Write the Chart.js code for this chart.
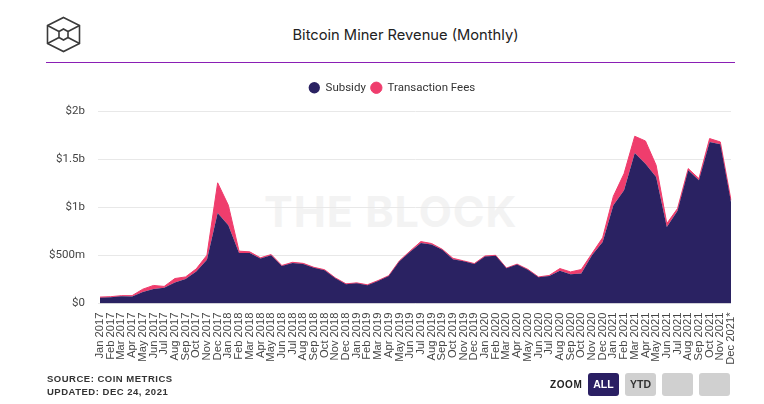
<!DOCTYPE html>
<html>
<head>
<meta charset="utf-8">
<title>Bitcoin Miner Revenue (Monthly)</title>
<script src="https://cdn.jsdelivr.net/npm/chart.js@4"></script>
<style>
    html, body { margin: 0; padding: 0; background: #fff; }
    #page { position: relative; width: 764px; height: 404px; overflow: hidden; }
    #title { position: absolute; left: 0; width: 811px; top: 26px; text-align: center; font: 400 14.7px Inter, sans-serif; color: #222; }
    #rule { position: absolute; left: 46px; top: 62px; width: 689px; height: 1px; background: #8a1fb5; }
    #mark { position: absolute; left: 264px; top: 185px; font: bold 43px Inter, sans-serif; color: #f3f3f3; letter-spacing: 1px; }
    #wrap { position: absolute; left: 30px; top: 77px; width: 724px; height: 327px; }
    #logo { position: absolute; left: 46px; top: 16px; }
    #source { position: absolute; left: 47px; top: 372px; font: bold 9.5px/13px "Liberation Sans", sans-serif; letter-spacing: 0.5px; color: #333; }
    #zoomLabel { position: absolute; left: 550px; top: 379px; font: bold 10px "Liberation Sans", sans-serif; letter-spacing: 0.6px; color: #222; }
    .btn { position: absolute; top: 373px; width: 31px; height: 23px; border-radius: 3px; background: #d0d0d0; color: #333; font: bold 10.5px/23px "Liberation Sans", sans-serif; text-align: center; }
    .btn.on { background: #2a1f63; color: #fff; }
</style>
</head>
<body>
<div id="page">
    <svg id="logo" width="36" height="38" viewBox="0 0 36 38" fill="none" stroke="#3a3a3a" stroke-width="1.6">
        <path d="M17.5 1.5 L33.5 9.5 L33.5 27.5 L17.5 35.5 L1.5 27.5 L1.5 9.5 Z"/>
        <path d="M17.5 13 L22 15.5 L22 21.5 L17.5 24 L13 21.5 L13 15.5 Z"/>
        <path d="M1.5 9.5 L13 15.5 M33.5 9.5 L22 15.5 M1.5 27.5 L13 21.5 M33.5 27.5 L22 21.5"/>
    </svg>
    <div id="title">Bitcoin Miner Revenue (Monthly)</div>
    <div id="rule"></div>
    <div id="mark">THE BLOCK</div>
    <div id="wrap"><canvas id="myChart" width="724" height="327"></canvas></div>
    <div id="source">SOURCE: COIN METRICS<br>UPDATED: DEC 24, 2021</div>
    <div id="zoomLabel">ZOOM</div>
    <div class="btn on" style="left:588px">ALL</div>
    <div class="btn" style="left:625px">YTD</div>
    <div class="btn" style="left:662px"></div>
    <div class="btn" style="left:699px"></div>
</div>
<script>
const months = [
    'Jan 2017', 'Feb 2017', 'Mar 2017', 'Apr 2017', 'May 2017', 'Jun 2017', 'Jul 2017', 'Aug 2017', 'Sep 2017', 'Oct 2017', 'Nov 2017', 'Dec 2017',
    'Jan 2018', 'Feb 2018', 'Mar 2018', 'Apr 2018', 'May 2018', 'Jun 2018', 'Jul 2018', 'Aug 2018', 'Sep 2018', 'Oct 2018', 'Nov 2018', 'Dec 2018',
    'Jan 2019', 'Feb 2019', 'Mar 2019', 'Apr 2019', 'May 2019', 'Jun 2019', 'Jul 2019', 'Aug 2019', 'Sep 2019', 'Oct 2019', 'Nov 2019', 'Dec 2019',
    'Jan 2020', 'Feb 2020', 'Mar 2020', 'Apr 2020', 'May 2020', 'Jun 2020', 'Jul 2020', 'Aug 2020', 'Sep 2020', 'Oct 2020', 'Nov 2020', 'Dec 2020',
    'Jan 2021', 'Feb 2021', 'Mar 2021', 'Apr 2021', 'May 2021', 'Jun 2021', 'Jul 2021', 'Aug 2021', 'Sep 2021', 'Oct 2021', 'Nov 2021', 'Dec 2021*'
];
// values in millions of dollars
const subsidy = [
    60, 64, 75, 72, 120, 150, 165, 220, 255, 333, 455, 944,
    815, 525, 525, 468, 502, 390, 422, 411, 372, 347, 262, 201,
    211, 191, 235, 286, 439, 540, 630, 615, 560, 460, 439, 411,
    490, 497, 366, 406, 351, 274, 287, 340, 305, 312, 502, 640,
    1024, 1180, 1568, 1457, 1319, 798, 965, 1388, 1284, 1683, 1659, 1058
];
const fees = [
    7, 7, 7, 10, 29, 38, 13, 40, 22, 28, 48, 313,
    209, 20, 13, 8, 8, 6, 7, 7, 5, 5, 5, 4,
    4, 4, 4, 4, 6, 7, 15, 10, 5, 11, 5, 5,
    5, 5, 3, 4, 5, 3, 5, 24, 24, 42, 18, 46,
    93, 173, 174, 236, 121, 35, 24, 17, 17, 35, 24, 18
];
const yTicks = ['$0', '$500m', '$1b', '$1.5b', '$2b'];

// the legend items sit close together but the plot starts lower down
const legendGap = {
    id: 'legendGap',
    beforeLayout(chart) {
        const legend = chart.legend;
        if (legend.gapDone) return;
        const fit = legend.fit;
        legend.fit = function () {
            fit.call(this);
            this.height = 34.5;
        };
        legend.gapDone = true;
    },
    afterLayout(chart) {
        // legend is centred on the page area, not on the wider y axis box
        chart.legend.left += 8;
    }
};

new Chart(document.getElementById('myChart'), {
    type: 'line',
    data: {
        labels: months,
        datasets: [{
            label: 'Subsidy',
            data: subsidy,
            backgroundColor: '#2a2262',
            borderWidth: 0,
            pointRadius: 0,
            fill: 'origin'
        }, {
            label: 'Transaction Fees',
            data: fees,
            backgroundColor: '#ef3d6d',
            borderColor: '#ef3d6d',
            borderWidth: 1,
            pointRadius: 0,
            fill: '-1'
        }]
    },
    plugins: [legendGap],
    options: {
        responsive: false,
        animation: false,
        layout: { padding: { left: 15, right: 23 } },
        plugins: {
            tooltip: { enabled: false },
            legend: {
                position: 'top',
                labels: {
                    usePointStyle: true,
                    boxWidth: 11,
                    boxHeight: 8,
                    padding: 5,
                    color: '#333',
                    font: { family: 'Roboto', size: 11.5 }
                }
            }
        },
        scales: {
            x: {
                stacked: true,
                offset: false,
                grid: { display: false },
                border: { display: false },
                afterFit: function (scale) {
                    scale.height = 100.5;
                    scale.paddingLeft = 0;
                    scale.paddingRight = 0;
                },
                ticks: {
                    autoSkip: false,
                    minRotation: 90,
                    maxRotation: 90,
                    padding: 1,
                    color: '#444',
                    font: { family: 'Liberation Sans', size: 11.2 }
                }
            },
            y: {
                stacked: true,
                min: 0,
                max: 2000,
                grid: { color: '#e8e8e8', tickLength: 2 },
                border: { display: false },
                afterFit: function (scale) { scale.width = 55; },
                ticks: {
                    stepSize: 500,
                    padding: 13,
                    color: '#444',
                    font: { family: 'Roboto', size: 11.5 },
                    callback: function (value, index) { return yTicks[index]; }
                }
            }
        }
    }
});
</script>
</body>
</html>
